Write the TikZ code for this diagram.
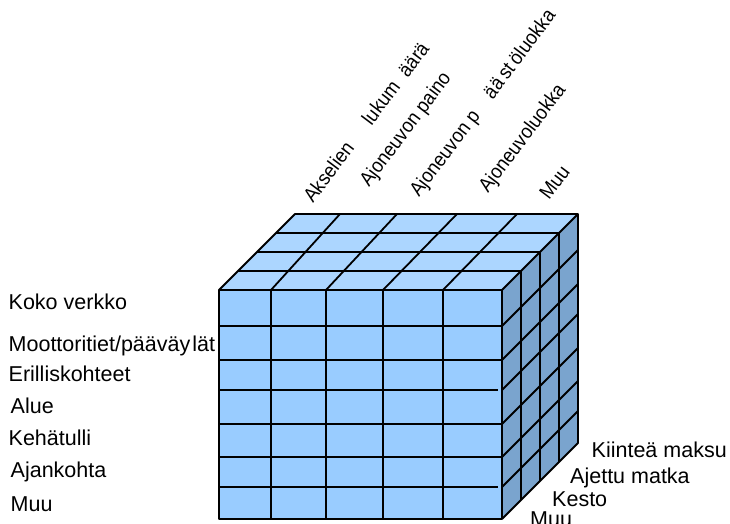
\documentclass[tikz,border=0pt]{standalone}
\usepackage{fontspec}
\setmainfont{Liberation Sans}
\definecolor{frontblue}{RGB}{153,204,255}
\definecolor{topblue}{RGB}{172,214,255}
\definecolor{sideblue}{RGB}{122,164,206}
\begin{document}
\begin{tikzpicture}[x=1pt,y=-1pt,
  edge/.style={line width=1.8pt, line join=round},
  rowlabel/.style={anchor=base west, inner sep=0pt, font=\fontsize{21.5}{25}\selectfont},
  collabel/.style={anchor=base west, inner sep=0pt, rotate=53, font=\fontsize{20}{24}\selectfont}]
\useasboundingbox (0,0) rectangle (730,524);

% faces of the cube
\fill[frontblue] (219,290) rectangle (502,519);
\fill[topblue] (219,290) -- (295,214) -- (578,214) -- (502,290) -- cycle;
\fill[sideblue] (502,290) -- (578,214) -- (578,443) -- (502,519) -- cycle;

% front grid: 7 rows, 5 columns
\foreach \y in {326,360,424,457} \draw[edge] (219,\y) -- (502,\y);
\foreach \y in {390,487} \draw[edge] (219,\y) -- (498,\y);
\foreach \x in {271,326,383,443} \draw[edge] (\x,290) -- (\x,519);

% top grid: 4 layers in depth
\foreach \k in {1,2,3} \draw[edge] ({219+19*\k},{290-19*\k}) -- ({502+19*\k},{290-19*\k});
\foreach \a/\b in {271/340,326/397,383/457,443/517} \draw[edge] (\a,290) -- (\b,214);

% side grid
\foreach \k in {1,2,3} \draw[edge] ({502+19*\k},{290-19*\k}) -- ({502+19*\k},{519-19*\k});
\foreach \y in {326,360,390,424,457,487} \draw[edge] (502,\y) -- (578,{\y-76});

% outline
\draw[edge] (219,290) rectangle (502,519);
\draw[edge] (219,290) -- (295,214) -- (578,214) -- (578,443) -- (502,519);
\draw[edge] (502,290) -- (578,214);

% row labels (left)
\node[rowlabel] (koko) at (8.5,309) {Koko verkko};
\node[rowlabel] (moot) at (8.5,351.5) {Moottoritiet/pääväy\hspace{2pt}lät};
\node[rowlabel] (eril) at (8.5,381.7) {Erilliskohteet};
\node[rowlabel] (alue) at (10.5,413.3) {Alue};
\node[rowlabel] (keha) at (8.5,445.7) {Kehätulli};
\node[rowlabel] (ajan) at (10.5,477.3) {Ajankohta};
\node[rowlabel] (muuL) at (10.5,511.7) {Muu};

% depth labels (right)
\node[rowlabel] (kiint) at (591.5,457) {Kiinteä maksu};
\node[rowlabel] (ajettu) at (570,483) {Ajettu matka};
\node[rowlabel] (kesto) at (552,506.7) {Kesto};
\node[rowlabel] (muuR) at (530,526.5) {Muu};

% column labels (top, slanted)
\node[collabel] (aks) at (313,204) {\scalebox{0.92}[1]{Akselien\hspace{30pt}lukum\hspace{12pt}äärä}};
\node[collabel] (paino) at (369,188) {\scalebox{0.92}[1]{Ajoneuvon paino}};
\node[collabel] (paasto) at (419,198) {\scalebox{0.92}[1]{Ajoneuvon p\hspace{22pt}ää\hspace{4pt}st\hspace{4pt}öluokka}};
\node[collabel] (luokka) at (488,194) {\scalebox{0.92}[1]{Ajoneuvoluokka}};
\node[collabel] (muuT) at (549,201) {\scalebox{0.92}[1]{Muu}};
\end{tikzpicture}
\end{document}
